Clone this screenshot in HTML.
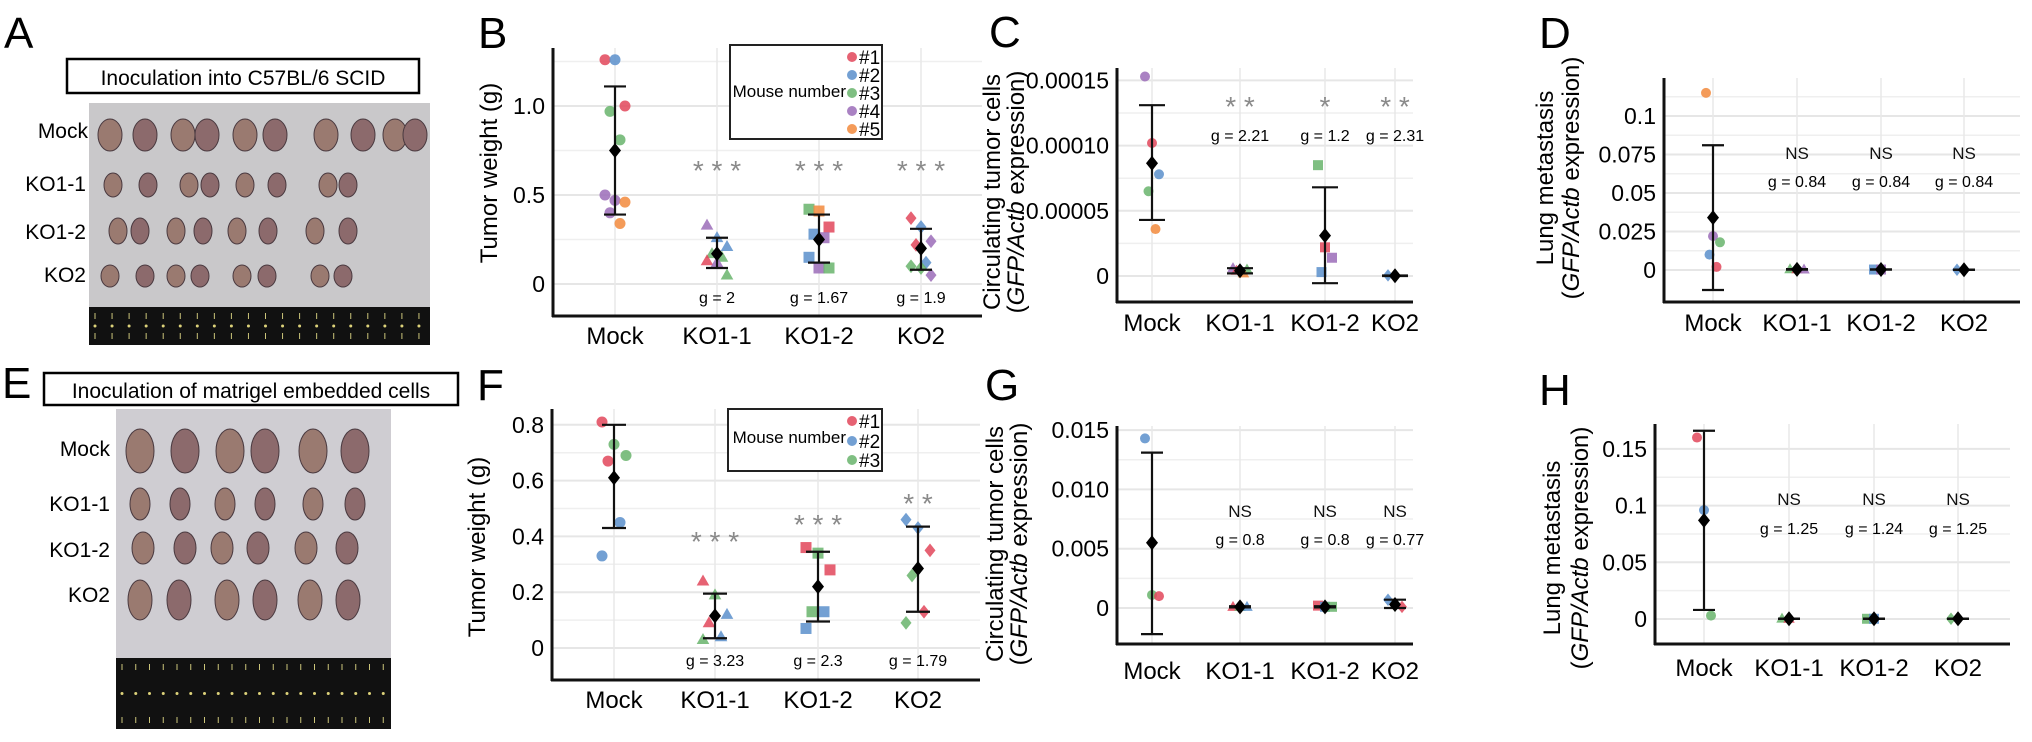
<!DOCTYPE html>
<html><head><meta charset="utf-8"><style>
html,body{margin:0;padding:0;background:#fff;}
svg{display:block;font-family:"Liberation Sans",Arial,sans-serif;}
</style></head><body>
<svg id="fig" width="2032" height="742" viewBox="0 0 2032 742" xmlns="http://www.w3.org/2000/svg">
<g>
<text x="4" y="48" font-size="44">A</text>
<rect x="67" y="59" width="352" height="34" fill="#fff" stroke="#000" stroke-width="2.5"/>
<text x="243" y="85" font-size="21" text-anchor="middle">Inoculation into C57BL/6 SCID</text>
<rect x="89" y="103" width="341" height="204" fill="#c9c8ca"/>
<rect x="89" y="307" width="341" height="38" fill="#111"/>
<text x="88" y="138" font-size="21" text-anchor="end">Mock</text>
<text x="86" y="191" font-size="21" text-anchor="end">KO1-1</text>
<text x="86" y="239" font-size="21" text-anchor="end">KO1-2</text>
<text x="86" y="282" font-size="21" text-anchor="end">KO2</text>
</g>
<g>
<text x="2" y="398" font-size="44">E</text>
<rect x="44" y="373" width="414" height="32" fill="#fff" stroke="#000" stroke-width="2.5"/>
<text x="251" y="398" font-size="21" text-anchor="middle">Inoculation of matrigel embedded cells</text>
<rect x="116" y="409" width="275" height="249" fill="#cfcdd2"/>
<rect x="116" y="658" width="275" height="71" fill="#111"/>
<text x="110" y="456" font-size="21" text-anchor="end">Mock</text>
<text x="110" y="511" font-size="21" text-anchor="end">KO1-1</text>
<text x="110" y="557" font-size="21" text-anchor="end">KO1-2</text>
<text x="110" y="602" font-size="21" text-anchor="end">KO2</text>
</g>
</svg>
<script>
// ---------- shared ----------
const categories = ["Mock","KO1-1","KO1-2","KO2"];
const mouseColors = ["#e2475b","#5a8fcb","#68b46c","#9b6cb8","#f28a3c"];

// ---------- Panel B ----------
const B_ticks = [0,0.5,1.0];
const B_tickLabels = ["0","0.5","1.0"];
const B_minor = [0.25,0.75,1.25];
const B_values = [[1.26,1.26,1.0,0.97,0.81,0.50,0.47,0.46,0.40,0.34],[0.33,0.26,0.21,0.17,0.15,0.13,0.12,0.05],[0.42,0.41,0.32,0.28,0.26,0.15,0.09,0.09],[0.37,0.32,0.24,0.22,0.12,0.10,0.09,0.05]];
const B_mice = [[1,2,1,3,3,4,4,5,4,5],[4,2,2,3,3,1,4,3],[3,5,1,2,4,2,4,3],[1,2,4,1,2,3,3,4]];
const B_mean = [0.75,0.17,0.25,0.20];
const B_lo = [0.39,0.09,0.12,0.08];
const B_hi = [1.11,0.26,0.39,0.31];
const B_sig = ["","* * *","* * *","* * *"];
const B_g = ["","g = 2","g = 1.67","g = 1.9"];

// ---------- Panel C ----------
const C_ticks = [0,0.00005,0.0001,0.00015];
const C_tickLabels = ["0","0.00005","0.00010","0.00015"];
const C_minor = [0.000025,0.000075,0.000125];
const C_values = [[0.000153,0.000102,0.000078,0.000065,0.000036],[0.000006,0.000005,0.000005,0.000004,0.000002],[0.000085,0.000022,0.000014,0.000003],[0.0000005,0.0000003]];
const C_mice = [[4,1,2,3,5],[4,2,3,1,5],[3,1,4,2],[2,4]];
const C_mean = [0.0000865,0.000004,0.000031,0.0000002];
const C_lo = [0.000043,0.000002,-0.0000055,0];
const C_hi = [0.000131,0.000006,0.000068,0.0000004];
const C_sig = ["","* *","*","* *"];
const C_g = ["","g = 2.21","g = 1.2","g = 2.31"];

// ---------- Panel D ----------
const D_ticks = [0,0.025,0.05,0.075,0.1];
const D_tickLabels = ["0","0.025","0.05","0.075","0.1"];
const D_minor = [0.0125,0.0375,0.0625,0.0875,0.1125];
const D_values = [[0.115,0.022,0.018,0.010,0.002],[0.0005,0.0005,0.0003],[0.0003,0.0003],[0.0002,0.0002]];
const D_mice = [[5,4,3,2,1],[3,1,4],[2,4],[2,5]];
const D_mean = [0.034,0.0004,0.0003,0.0002];
const D_lo = [-0.013,0.0002,0.0002,0.0001];
const D_hi = [0.081,0.0006,0.0004,0.0003];
const D_sig = ["","NS","NS","NS"];
const D_g = ["","g = 0.84","g = 0.84","g = 0.84"];

// ---------- Panel F ----------
const F_ticks = [0,0.2,0.4,0.6,0.8];
const F_tickLabels = ["0","0.2","0.4","0.6","0.8"];
const F_minor = [0.1,0.3,0.5,0.7];
const F_values = [[0.81,0.73,0.69,0.67,0.45,0.33],[0.24,0.19,0.12,0.09,0.04,0.03],[0.36,0.34,0.28,0.13,0.13,0.07],[0.46,0.43,0.35,0.26,0.13,0.09]];
const F_mice = [[1,3,3,1,2,2],[1,3,2,1,2,3],[1,3,1,3,2,2],[2,2,1,3,1,3]];
const F_mean = [0.61,0.115,0.22,0.285];
const F_lo = [0.43,0.035,0.095,0.13];
const F_hi = [0.80,0.195,0.345,0.435];
const F_sig = ["","* * *","* * *","* *"];
const F_g = ["","g = 3.23","g = 2.3","g = 1.79"];

// ---------- Panel G ----------
const G_ticks = [0,0.005,0.01,0.015];
const G_tickLabels = ["0","0.005","0.010","0.015"];
const G_minor = [0.0025,0.0075,0.0125];
const G_values = [[0.0143,0.0011,0.0010],[0.0001,0.0001,0.0001],[0.0002,0.0001,0.0001],[0.0007,0.0002,0.0001]];
const G_mice = [[2,3,1],[1,3,2],[1,2,3],[2,3,1]];
const G_mean = [0.0055,0.0001,0.0001,0.0003];
const G_lo = [-0.0022,0.00005,0.00005,0];
const G_hi = [0.0131,0.00015,0.00015,0.0007];
const G_sig = ["","NS","NS","NS"];
const G_g = ["","g = 0.8","g = 0.8","g = 0.77"];

// ---------- Panel H ----------
const H_ticks = [0,0.05,0.1,0.15];
const H_tickLabels = ["0","0.05","0.1","0.15"];
const H_minor = [0.025,0.075,0.125];
const H_values = [[0.160,0.096,0.003],[0.0003,0.0002],[0.0002,0.0002],[0.0002,0.0002]];
const H_mice = [[1,2,3],[3,1],[3,2],[3,1]];
const H_mean = [0.087,0.0002,0.0002,0.0002];
const H_lo = [0.008,0.0001,0.0001,0.0001];
const H_hi = [0.166,0.0003,0.0003,0.0003];
const H_sig = ["","NS","NS","NS"];
const H_g = ["","g = 1.25","g = 1.24","g = 1.25"];

const NS = "http://www.w3.org/2000/svg";
const svg = document.getElementById("fig");
function mk(tag, attrs, parent){
  const el = document.createElementNS(NS, tag);
  for (const k in attrs) el.setAttribute(k, attrs[k]);
  (parent||svg).appendChild(el);
  return el;
}
function label(parent, x, y, s, size, anchor, name, extra){
  const t = mk("text", Object.assign({x:x, y:y, "font-size":size, "text-anchor":anchor||"middle"}, extra||{}), parent);
  t.textContent = s;
  
  
  return t;
}

function blobs(cx0, rows, xs, rx, ry){
  const g = mk("g", {});
  
  
  rows.forEach((ry0, r) => {
    xs[r].forEach((x, i) => {
      const e = mk("ellipse", {cx:x, cy:ry0, rx:rx[r], ry:ry[r], fill:(i%2? "#8c6a6c":"#9a7a70"), stroke:"#4a3a40", "stroke-width":1}, g);
      
      
    });
  });
}
blobs(0,[135,185,231,276],[[110,145,183,207,245,275,326,363,395,415],[113,148,189,210,245,277,328,348],[118,140,176,203,237,268,315,348],[110,145,176,200,242,267,320,343]],[12,9,9,9],[16,12,13,11]);
blobs(0,[451,504,548,600],[[140,185,230,265,313,355],[140,180,225,265,313,355],[143,185,222,258,306,347],[140,179,227,265,310,348]],[14,10,11,12],[22,16,16,20]);
[[89,430,307,345],[116,391,658,729]].forEach(r=>{
  for(let x=r[0]+6;x<r[1];x+=(r[1]-r[0])/20){
    mk("line",{x1:x,y1:r[2]+6,x2:x,y2:r[2]+12,stroke:"#ccc57a","stroke-width":1});
    mk("circle",{cx:x,cy:(r[2]+r[3])/2,r:1.5,fill:"#ddd27a"});
    mk("line",{x1:x,y1:r[3]-12,x2:x,y2:r[3]-6,stroke:"#ccc57a","stroke-width":1});
  }
});

function marker(g, shape, x, y, color, s, name){
  let el;
  if (shape === "circle") el = mk("circle", {cx:x, cy:y, r:s}, g);
  else if (shape === "triangle") el = mk("polygon", {points:`${x},${y-s*1.2} ${x-s*1.15},${y+s*0.8} ${x+s*1.15},${y+s*0.8}`}, g);
  else if (shape === "square") el = mk("rect", {x:x-s, y:y-s, width:2*s, height:2*s}, g);
  else el = mk("polygon", {points:`${x},${y-s*1.25} ${x+s},${y} ${x},${y+s*1.25} ${x-s},${y}`}, g);
  el.setAttribute("fill", color);
  el.setAttribute("fill-opacity", color === "#000" ? 1 : 0.85);
  
  
  return el;
}

const shapes = ["circle","triangle","square","diamond"];

function drawPanel(cfg, d){
  const g = mk("g", {});
  
  
  const yS = v => cfg.y0 - v * cfg.ppu;
  const xS = i => cfg.cats[i];
  d.minor.forEach(v => { const l = mk("line", {x1:cfg.ax, x2:cfg.right, y1:yS(v), y2:yS(v), stroke:"#efefef", "stroke-width":1.5}, g);   });
  d.ticks.forEach(v => { const l = mk("line", {x1:cfg.ax, x2:cfg.right, y1:yS(v), y2:yS(v), stroke:"#e6e6e6", "stroke-width":2}, g);   });
  categories.forEach((c,i) => { const l = mk("line", {x1:xS(i), x2:xS(i), y1:cfg.top, y2:cfg.axY, stroke:"#e8e8e8", "stroke-width":1.5}, g);   });
  const ya = mk("line", {x1:cfg.ax, x2:cfg.ax, y1:cfg.top, y2:cfg.axY+1, stroke:"#111", "stroke-width":3}, g);
   
  const xa = mk("line", {x1:cfg.ax-1, x2:cfg.right, y1:cfg.axY, y2:cfg.axY, stroke:"#111", "stroke-width":3}, g);
   
  d.ticks.forEach((v,i) => label(g, cfg.ax - 8, yS(v) + 8, d.tickLabels[i], 23, "end", "y-tick-label"));
  categories.forEach((c,i) => label(g, xS(i), cfg.labY + 8, c, 24, "middle", "x-tick-label"));
  cfg.title.forEach((t,i) => {
    const el = label(g, 0, 0, "", 24, "middle", "y-axis-title", {transform:`translate(${cfg.titleX[i]},${cfg.titleY}) rotate(-90)`});
    t.forEach(seg => { const ts = mk("tspan", seg[1] ? {"font-style":"italic"} : {}, el); ts.textContent = seg[0]; });
  });
  d.values.forEach((arr, ci) => {
    arr.forEach((v, k) => {
      const jit = (((k * 7) % 5) - 2) * cfg.jit;
      marker(g, shapes[ci], xS(ci) + jit, yS(v), mouseColors[d.mice[ci][k]-1], cfg.ms, "data-point-" + categories[ci].toLowerCase());
    });
  });
  categories.forEach((c,ci) => {
    const x = xS(ci);
    const e = mk("path", {d:`M${x},${yS(d.lo[ci])}V${yS(d.hi[ci])}M${x-cfg.cap},${yS(d.lo[ci])}H${x+cfg.cap}M${x-cfg.cap},${yS(d.hi[ci])}H${x+cfg.cap}`, stroke:"#111", "stroke-width":2.2, fill:"none"}, g);
     
    marker(g, "diamond", x, yS(d.mean[ci]), "#000", 6, "mean-marker");
    if (d.sig[ci]) {
      const isNS = d.sig[ci] === "NS";
      const sy = Array.isArray(cfg.sigY) ? cfg.sigY[ci] : cfg.sigY;
      label(g, x, sy + (isNS ? 6 : 14), d.sig[ci], isNS ? 17 : 28, "middle", "significance-label", {fill: isNS ? "#111" : "#8a8a8a"});
    }
    if (d.g[ci]) label(g, x, cfg.gY + 6, d.g[ci], 16, "middle", "effect-size-label");
  });
  label(g, cfg.letter[0], cfg.letter[1], cfg.id.toUpperCase(), 44, "start", "panel-label-" + cfg.id);
  if (cfg.legend) {
    const L = cfg.legend;
    const lg = mk("g", {}, g);
     
    const r = mk("rect", {x:L.x, y:L.y, width:L.w, height:L.h, fill:"#fff", stroke:"#222", "stroke-width":2}, lg);
     
    label(lg, L.x + L.w - 36, L.titleY + 5, "Mouse number", 17, "end", "legend-title");
    L.ys.forEach((yy,i) => {
      marker(lg, "circle", L.x + L.w - 30, yy, mouseColors[i], 5, "legend-entry-marker");
      label(lg, L.x + L.w - 23, yy + 7, "#" + (i+1), 19, "start", "legend-entry");
    });
  }
}

drawPanel({id:"b", ax:553, top:48, axY:316, right:982, y0:284, ppu:178, cats:[615,717,819,921], sigY:166, gY:297, labY:336, jit:5, ms:5.5, cap:11,
  title:[[["Tumor weight (g)",0]]], titleX:[497], titleY:173, letter:[478,48],
  legend:{x:730,y:45,w:152,h:94,titleY:92,ys:[57,75,93,111,129]}},
  {ticks:B_ticks, tickLabels:B_tickLabels, minor:B_minor, values:B_values, mice:B_mice, mean:B_mean, lo:B_lo, hi:B_hi, sig:B_sig, g:B_g});
drawPanel({id:"c", ax:1117, top:68, axY:302, right:1413, y0:276, ppu:1304000, cats:[1152,1240,1325,1395], sigY:102, gY:135, labY:323, jit:3.5, ms:5, cap:13,
  title:[[["Circulating tumor cells",0]],[["(",0],["GFP/Actb",1],[" expression)",0]]], titleX:[1000,1024], titleY:192, letter:[989,47]},
  {ticks:C_ticks, tickLabels:C_tickLabels, minor:C_minor, values:C_values, mice:C_mice, mean:C_mean, lo:C_lo, hi:C_hi, sig:C_sig, g:C_g});
drawPanel({id:"d", ax:1664, top:78, axY:302, right:2020, y0:270, ppu:1540, cats:[1713,1797,1881,1964], sigY:153, gY:181, labY:323, jit:3.5, ms:5, cap:11,
  title:[[["Lung metastasis",0]],[["(",0],["GFP/Actb",1],[" expression)",0]]], titleX:[1553,1579], titleY:178, letter:[1539,48]},
  {ticks:D_ticks, tickLabels:D_tickLabels, minor:D_minor, values:D_values, mice:D_mice, mean:D_mean, lo:D_lo, hi:D_hi, sig:D_sig, g:D_g});
drawPanel({id:"f", ax:552, top:409, axY:680, right:980, y0:648, ppu:279, cats:[614,715,818,918], sigY:[0,537,520,499], gY:660, labY:700, jit:6, ms:5.5, cap:12,
  title:[[["Tumor weight (g)",0]]], titleX:[485], titleY:547, letter:[477,400],
  legend:{x:728,y:409,w:154,h:62,titleY:438,ys:[421,441,460]}},
  {ticks:F_ticks, tickLabels:F_tickLabels, minor:F_minor, values:F_values, mice:F_mice, mean:F_mean, lo:F_lo, hi:F_hi, sig:F_sig, g:F_g});
drawPanel({id:"g", ax:1117, top:426, axY:644, right:1413, y0:608, ppu:11860, cats:[1152,1240,1325,1395], sigY:511, gY:539, labY:671, jit:3.5, ms:5, cap:11,
  title:[[["Circulating tumor cells",0]],[["(",0],["GFP/Actb",1],[" expression)",0]]], titleX:[1003,1027], titleY:544, letter:[985,400]},
  {ticks:G_ticks, tickLabels:G_tickLabels, minor:G_minor, values:G_values, mice:G_mice, mean:G_mean, lo:G_lo, hi:G_hi, sig:G_sig, g:G_g});
drawPanel({id:"h", ax:1655, top:424, axY:644, right:2010, y0:619, ppu:1134, cats:[1704,1789,1874,1958], sigY:499, gY:528, labY:668, jit:3.5, ms:5, cap:11,
  title:[[["Lung metastasis",0]],[["(",0],["GFP/Actb",1],[" expression)",0]]], titleX:[1560,1588], titleY:548, letter:[1539,405]},
  {ticks:H_ticks, tickLabels:H_tickLabels, minor:H_minor, values:H_values, mice:H_mice, mean:H_mean, lo:H_lo, hi:H_hi, sig:H_sig, g:H_g});
</script>
</body></html>
